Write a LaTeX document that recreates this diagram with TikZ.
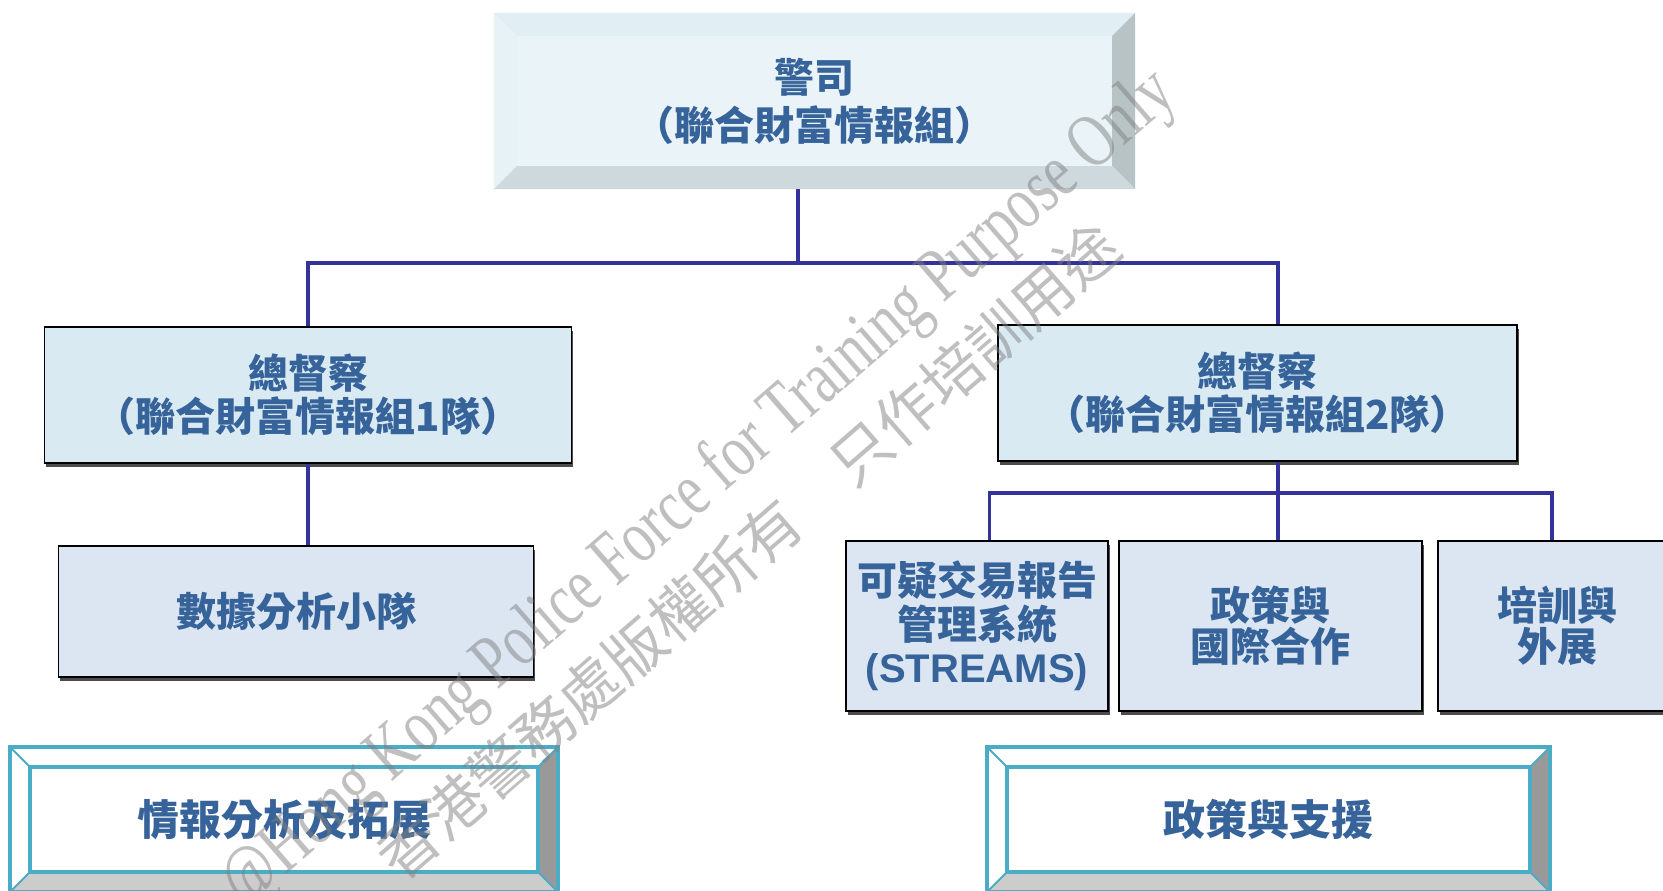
\documentclass[tikz,border=0pt]{standalone}
\usepackage{fontspec}
\newfontfamily\cjk{Noto Sans CJK TC}
\newfontfamily\latin{Liberation Sans}
\newfontfamily\wmfont{Liberation Serif}
\usetikzlibrary{shadows}

\definecolor{textblue}{HTML}{36639A}
\definecolor{linkblue}{HTML}{333399}
\definecolor{frameteal}{HTML}{4BACC6}
\definecolor{topface}{HTML}{EAF4F8}
\definecolor{bevtop}{HTML}{E1EEF4}
\definecolor{bevleft}{HTML}{E7F2F7}
\definecolor{bevright}{HTML}{B8C3C6}
\definecolor{bevbottom}{HTML}{CED9DE}
\definecolor{chieffill}{HTML}{DAEAF3}
\definecolor{teamfill}{HTML}{DCE6F2}

\begin{document}
\begin{tikzpicture}[x=1pt, y=-1pt,
    head/.style ={fill=topface, text=textblue, align=center, inner sep=0pt,
      minimum width=641pt, minimum height=176pt,
      font=\cjk\bfseries\fontsize{40}{48}\selectfont},
    chief/.style ={draw=black, line width=1.4pt, fill=chieffill, text=textblue,
      align=center, inner sep=0pt, minimum height=136pt,
      font=\cjk\bfseries\fontsize{40}{43}\selectfont,
      general shadow={fill=black!70, shadow xshift=1.5pt, shadow yshift=-3.5pt}},
    team/.style ={chief, fill=teamfill, minimum height=170pt},
    section/.style ={fill=white, text=textblue, align=center, inner sep=0pt,
      minimum width=548pt, minimum height=145pt,
      font=\cjk\bfseries\fontsize{42}{48}\selectfont},
    link/.style ={draw=linkblue, line width=3.2pt},
    rim/.style ={draw=frameteal, line width=4pt},
    watermark/.style ={text=black!50, text opacity=0.5, inner sep=0pt}]
   \useasboundingbox (0,0) rectangle (1663,891);
   \fill[white] (0,0) rectangle (1663,891);
   \clip (0,0) rectangle (1663,891);

   % top box with bevel
   \node[head] (jfiu) at (814.5,101) {警司\\（聯合財富情報組）};
   \fill[bevtop] (jfiu.north west) -- (jfiu.north east) -- ([shift={(-23,23)}]jfiu.north east) -- ([shift={(23,23)}]jfiu.north west) -- cycle;
   \fill[bevleft] (jfiu.north west) -- ([shift={(23,23)}]jfiu.north west) -- ([shift={(23,-23)}]jfiu.south west) -- (jfiu.south west) -- cycle;
   \fill[bevright] (jfiu.north east) -- (jfiu.south east) -- ([shift={(-23,-23)}]jfiu.south east) -- ([shift={(-23,23)}]jfiu.north east) -- cycle;
   \fill[bevbottom] (jfiu.south west) -- (jfiu.south east) -- ([shift={(-23,-23)}]jfiu.south east) -- ([shift={(23,-23)}]jfiu.south west) -- cycle;

   \node[chief, minimum width=527pt] (chief1) at (308,395) {總督察\\（聯合財富情報組1隊）};
   \node[chief, minimum width=519pt] (chief2) at (1257.5,393) {總督察\\（聯合財富情報組2隊）};
   \node[chief, fill=teamfill, minimum width=475pt, minimum height=131pt] (data) at (296,611.5) {數據分析小隊};
   \node[team, minimum width=262pt, font=\cjk\bfseries\fontsize{40}{43.5}\selectfont] (streams) at (977,626) {可疑交易報告\\管理系統\\{\latin\bfseries (STREAMS)}};
   \node[team, minimum width=303pt, font=\cjk\bfseries\fontsize{40}{41}\selectfont] (policy) at (1270.5,626) {政策與\\國際合作};
   \node[team, minimum width=238pt, font=\cjk\bfseries\fontsize{40}{41}\selectfont] (training) at (1557,626) {培訓與\\外展};

   \coordinate (hubA) at (798,263);
   \coordinate (hubB) at (1278,493);
   \draw[link] (jfiu.south -| hubA) to (hubA);
   \draw[link] (chief1.north) |- (hubA);
   \draw[link] (chief2.north -| hubB) |- (hubA);
   \draw[link] (chief1.south) to (chief1.south |- data.north);
   \draw[link] (chief2.south -| hubB) to (policy.north -| hubB);
   \draw[link] (hubB) -| ([xshift=12.5pt]streams.north);
   \draw[link] (hubB) -| ([xshift=-5pt]training.north);

   % bottom section frames
   \node[section] (intel) at (284,819.5) {情報分析及拓展};
   \node[section, minimum width=563pt] (support) at (1268.5,819.5) {政策與支援};
   \foreach \f in {intel,support} {
     \fill[black!40] (\f.north east) -- (\f.south east) -- ([shift={(-20,-20)}]\f.south east) -- ([shift={(-20,20)}]\f.north east) -- cycle;
     \fill[black!20] (\f.south west) -- (\f.south east) -- ([shift={(-20,-20)}]\f.south east) -- ([shift={(20,-20)}]\f.south west) -- cycle;
     \draw[rim] (\f.north west) rectangle (\f.south east);
     \draw[rim] ([shift={(20,20)}]\f.north west) rectangle ([shift={(-20,-20)}]\f.south east);
     \draw[frameteal, line width=2pt] (\f.north west) to ([shift={(20,20)}]\f.north west);
     \draw[frameteal, line width=2pt] (\f.north east) to ([shift={(-20,20)}]\f.north east);
     \draw[frameteal, line width=2pt] (\f.south west) to ([shift={(20,-20)}]\f.south west);
     \draw[frameteal, line width=2pt] (\f.south east) to ([shift={(-20,-20)}]\f.south east);
   }

   % watermark
   \node[watermark, rotate=41, font=\wmfont\fontsize{76}{76}\selectfont] (wmen) at (700,490) {\scalebox{0.75}[1]{@Hong Kong Police Force for Training Purpose Only}};
   \node[watermark, rotate=41, font=\cjk\fontsize{60}{60}\selectfont] (wmzh) at (748,551) {香港警務處版權所有\hspace{1em}只作培訓用途};
 \end{tikzpicture}
\end{document}
